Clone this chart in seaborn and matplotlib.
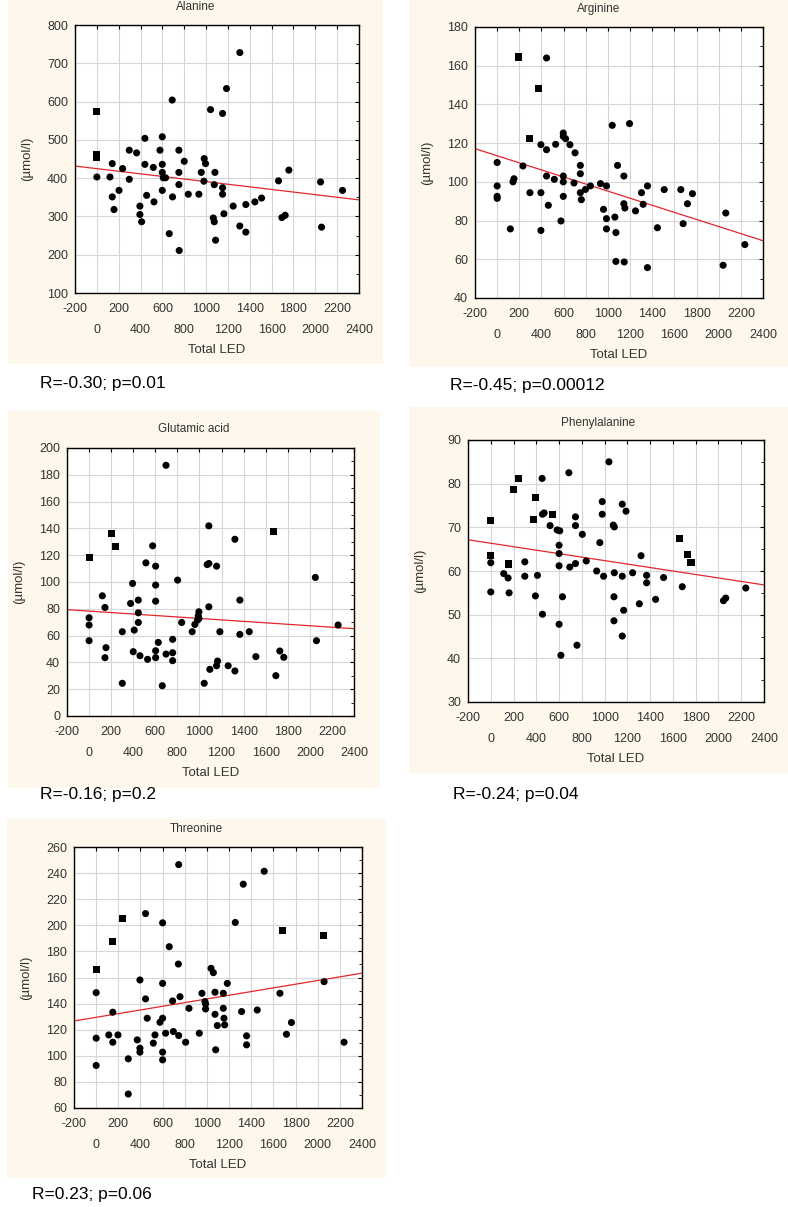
import pandas as pd
import seaborn as sns
import matplotlib.pyplot as plt
from matplotlib.patches import Rectangle
from matplotlib.ticker import MultipleLocator

# ---- data (Total LED vs plasma amino acid) ----
ala_x = [0, 0, 0, 0, 120, 141, 141, 157, 203, 236, 297, 297, 364, 394, 394, 410,
         440, 440, 456, 517, 523, 578, 599, 599, 599, 599, 608, 629, 663, 690, 693,
         751, 751, 751, 754, 800, 837, 934, 956, 983, 980, 995, 1041, 1066, 1075,
         1075, 1081, 1087, 1151, 1151, 1151, 1163, 1187, 1248, 1309, 1309, 1364,
         1364, 1447, 1508, 1663, 1694, 1724, 1758, 2048, 2057, 2249]
ala_y = [573, 462, 455, 403, 403, 438, 351, 318, 368, 425, 473, 397, 466, 327, 305,
         286, 504, 436, 355, 428, 338, 473, 508, 436, 415, 368, 401, 401, 255, 604,
         351, 473, 415, 383, 211, 444, 358, 358, 415, 451, 392, 438, 579, 296, 286,
         383, 415, 238, 569, 375, 358, 307, 634, 327, 728, 275, 331, 259, 338, 348,
         393, 297, 303, 421, 390, 272, 368]
ala_sq = [0, 1, 2]

arg_x = [0, 0, 0, 0, 119, 143, 152, 191, 233, 296, 296, 377, 395, 395, 395, 446,
         446, 446, 462, 516, 528, 576, 597, 597, 597, 597, 597, 618, 657, 694, 703,
         751, 751, 751, 760, 797, 842, 933, 987, 960, 987, 987, 1039, 1063, 1072,
         1072, 1087, 1144, 1144, 1153, 1147, 1195, 1249, 1303, 1318, 1357, 1357,
         1447, 1508, 1658, 1679, 1718, 1763, 2040, 2064, 2236]
arg_y = [110, 97.9, 92.5, 91.5, 75.7, 100, 101.6, 164.5, 108.2, 94.4, 122.5, 148.1,
         119.2, 94.4, 74.9, 164, 116.6, 103, 87.9, 101.3, 119.4, 79.8, 125.2, 123.5,
         103, 100, 92.5, 122.3, 119.2, 99.4, 115, 108.5, 104.2, 94.4, 90.8, 96.1,
         97.9, 99.1, 97.9, 85.8, 81, 75.7, 129.2, 81.8, 73.8, 58.9, 108.5, 103, 88.7,
         86.5, 58.6, 130.1, 85, 94.4, 88.4, 97.9, 55.7, 76.3, 96, 96, 78.4, 88.7,
         93.9, 56.9, 83.9, 67.6]
arg_sq = [7, 10, 11]

glu_x = [0, 0, 0, 0, 120, 144, 153, 144, 204, 240, 301, 301, 376, 394, 400, 409,
         446, 446, 446, 461, 515, 530, 576, 603, 603, 603, 603, 603, 627, 663, 697,
         697, 757, 757, 757, 802, 839, 934, 958, 983, 989, 995, 995, 1043, 1070,
         1085, 1085, 1085, 1094, 1155, 1155, 1164, 1185, 1260, 1321, 1321, 1366,
         1366, 1451, 1511, 1668, 1692, 1728, 1764, 2050, 2060, 2256]
glu_y = [118, 73.3, 67.9, 56.2, 89.7, 81, 51, 43.5, 136.2, 126.2, 62.9, 24.4, 84,
         98.9, 48, 64.1, 86.5, 77, 69.8, 45, 114.3, 42.3, 127, 111.8, 97.7, 85.7,
         48.7, 43.5, 54.9, 22.6, 187.1, 46.2, 57.2, 47.2, 41.3, 101.4, 69.8, 62.9,
         68.3, 71.6, 74.8, 77.8, 72.8, 24.4, 113, 141.9, 113.8, 81.5, 34.8, 111.8,
         37.5, 41, 62.9, 37.5, 131.9, 33.6, 86.5, 60.9, 62.9, 44.3, 137.9, 30.1,
         48.5, 43.8, 103.4, 56.2, 67.9]
glu_sq = [0, 8, 9, 60]

phe_x = [0, 0, 0, 0, 114, 152, 152, 161, 196, 246, 299, 299, 372, 392, 392, 410,
         451, 454, 469, 454, 521, 539, 583, 606, 600, 600, 600, 600, 630, 686, 694,
         744, 744, 744, 616, 757, 804, 839, 930, 958, 979, 979, 991, 1038, 1076,
         1085, 1085, 1082, 1082, 1155, 1155, 1155, 1167, 1188, 1246, 1305, 1320,
         1369, 1369, 1448, 1518, 1656, 1682, 1726, 1759, 2044, 2064, 2240]
phe_y = [71.5, 63.5, 61.9, 55.2, 59.4, 61.6, 58.4, 55, 78.7, 81.1, 62.1, 58.8, 71.8,
         76.9, 54.3, 59, 81.2, 73, 73.3, 50.1, 70.4, 73, 69.4, 69.2, 65.9, 64, 61.2,
         47.8, 54.1, 82.5, 60.9, 72.4, 70.4, 61.7, 40.7, 43, 68.4, 62.3, 60, 66.5,
         75.9, 73, 58.8, 85, 70.5, 70.1, 59.6, 54.1, 48.6, 75.3, 58.8, 45.1, 51,
         73.7, 59.6, 52.5, 63.5, 59, 57.3, 53.5, 58.5, 67.4, 56.4, 63.8, 61.9, 53.2,
         53.8, 56.1]
phe_sq = [0, 1, 5, 8, 9, 12, 13, 21, 61, 63, 64]

thr_x = [0, 0, 0, 0, 114, 150, 150, 150, 197, 236, 290, 290, 371, 395, 395, 395,
         446, 446, 461, 516, 531, 576, 600, 600, 600, 600, 600, 627, 660, 690, 697,
         742, 745, 745, 757, 808, 838, 931, 955, 982, 988, 988, 1037, 1058, 1073,
         1073, 1079, 1094, 1148, 1148, 1154, 1160, 1184, 1256, 1313, 1328, 1358,
         1358, 1454, 1517, 1659, 1682, 1718, 1763, 2049, 2058, 2238]
thr_y = [166.2, 148.4, 113.5, 92.6, 116, 187.4, 133.4, 110.4, 116, 205.2, 97.7, 70.7,
         112.2, 158.1, 105.8, 102.8, 209, 143.6, 128.8, 109.7, 116, 125.7, 201.9,
         155.5, 128.8, 102.8, 96.9, 117.3, 183.6, 142, 118.6, 170.3, 246.5, 115.5,
         145.3, 110.4, 136.4, 117.3, 147.9, 141.5, 135.9, 139.7, 167, 163.7, 148.7,
         131.8, 104.6, 123.2, 147.9, 136.4, 128.8, 123.7, 155.5, 202.2, 133.9, 231.5,
         115.3, 108.4, 135.1, 241.4, 147.9, 196.3, 116.5, 125.5, 192.5, 156.8, 110.4]
thr_sq = [0, 5, 9, 61, 64]

# x tick labels sit on two staggered rows
x_row1 = list(range(-200, 2201, 400))
x_row2 = list(range(0, 2401, 400))

panels = [
    dict(name="Alanine", x=ala_x, y=ala_y, sq=ala_sq, yticks=range(100, 801, 100),
         caption="R=-0.30; p=0.01",
         box=(75, 25, 359, 293), bg=(8, 0, 383, 364), title_y=7, cap=(40, 383)),
    dict(name="Arginine", x=arg_x, y=arg_y, sq=arg_sq, yticks=range(40, 181, 20),
         caption="R=-0.45; p=0.00012",
         box=(475, 27, 763, 298), bg=(409, 0, 788, 367), title_y=9, cap=(450, 385)),
    dict(name="Glutamic acid", x=glu_x, y=glu_y, sq=glu_sq, yticks=range(0, 201, 20),
         caption="R=-0.16; p=0.2",
         box=(67, 448, 354, 716), bg=(8, 411, 380, 788), title_y=429, cap=(40, 795)),
    dict(name="Phenylalanine", x=phe_x, y=phe_y, sq=phe_sq, yticks=range(30, 91, 10),
         caption="R=-0.24; p=0.04",
         box=(468, 440, 764, 702), bg=(409, 407, 788, 773), title_y=423, cap=(453, 795)),
    dict(name="Threonine", x=thr_x, y=thr_y, sq=thr_sq, yticks=range(60, 261, 20),
         caption="R=0.23; p=0.06",
         box=(74, 847, 362, 1108), bg=(7, 819, 386, 1178), title_y=829, cap=(32, 1195)),
]

sns.set_theme(style="white")
plt.rcParams["font.family"] = ["Liberation Sans", "DejaVu Sans"]

W, H = 788, 1207
BEIGE = "#fdf8eb"
TXT = "#333333"

fig = plt.figure(figsize=(W / 100, H / 100), dpi=100)

for p in panels:
    bl, bt, br, bb = p["bg"]
    fig.add_artist(Rectangle((bl / W, 1 - bb / H), (br - bl) / W, (bb - bt) / H,
                             transform=fig.transFigure, facecolor=BEIGE,
                             edgecolor="none", zorder=-10))
    l, t, r, b = p["box"]
    ax = fig.add_axes([l / W, 1 - b / H, (r - l) / W, (b - t) / H])
    ax.set_facecolor("white")

    df = pd.DataFrame({"led": p["x"], "val": p["y"]})
    df["shape"] = ["sq" if i in p["sq"] else "dot" for i in range(len(df))]

    yt = list(p["yticks"])
    ax.set_xlim(-200, 2400)
    ax.set_ylim(yt[0], yt[-1])

    sns.regplot(data=df, x="led", y="val", scatter=False, ci=None, truncate=False,
                color="#e3262b", line_kws={"lw": 0.9}, ax=ax)
    sns.scatterplot(data=df, x="led", y="val", style="shape",
                    markers={"dot": "o", "sq": "s"}, color="black", s=26,
                    edgecolor="none", legend=False, ax=ax, zorder=3)

    ax.set_xlim(-200, 2400)
    ax.set_ylim(yt[0], yt[-1])
    ax.set_xticks(x_row1, [str(v) for v in x_row1])
    ax.set_xticks(x_row2, [str(v) for v in x_row2], minor=True)
    ax.set_yticks(yt, [str(v) for v in yt])
    ax.yaxis.set_minor_locator(MultipleLocator((yt[1] - yt[0]) / 2))
    ax.tick_params(which="both", direction="in", length=3, width=0.8, color="black",
                   top=True, right=True, labelsize=9, labelcolor=TXT)
    ax.tick_params(axis="y", which="minor", length=2, width=0.6)
    ax.tick_params(axis="y", which="major", pad=5)
    ax.tick_params(axis="x", which="major", pad=7)
    ax.tick_params(axis="x", which="minor", pad=22)
    ax.grid(True, axis="x", which="both", color="#d6d6d6", lw=0.8)
    ax.grid(True, axis="y", which="major", color="#d6d6d6", lw=0.8)
    ax.set_axisbelow(True)
    for s in ax.spines.values():
        s.set_color("black")
        s.set_linewidth(1.0)

    ax.set_xlabel("Total LED", fontsize=9.5, color=TXT)
    ax.xaxis.set_label_coords(0.5, -57 / (b - t))
    ax.xaxis.label.set_va("center")
    ax.set_ylabel("(µmol/l)", fontsize=9.5, color=TXT)
    ax.yaxis.set_label_coords(-48 / (r - l), 0.5)
    ax.yaxis.label.set_va("center")

    fig.text((bl + br) / 2 / W, 1 - p["title_y"] / H, p["name"], fontsize=8.5,
             color=TXT, ha="center", va="center")
    cx, cy = p["cap"]
    fig.text(cx / W, 1 - cy / H, p["caption"], fontsize=12.5, color="black",
             ha="left", va="center")

fig.savefig("out.png", dpi=100)
